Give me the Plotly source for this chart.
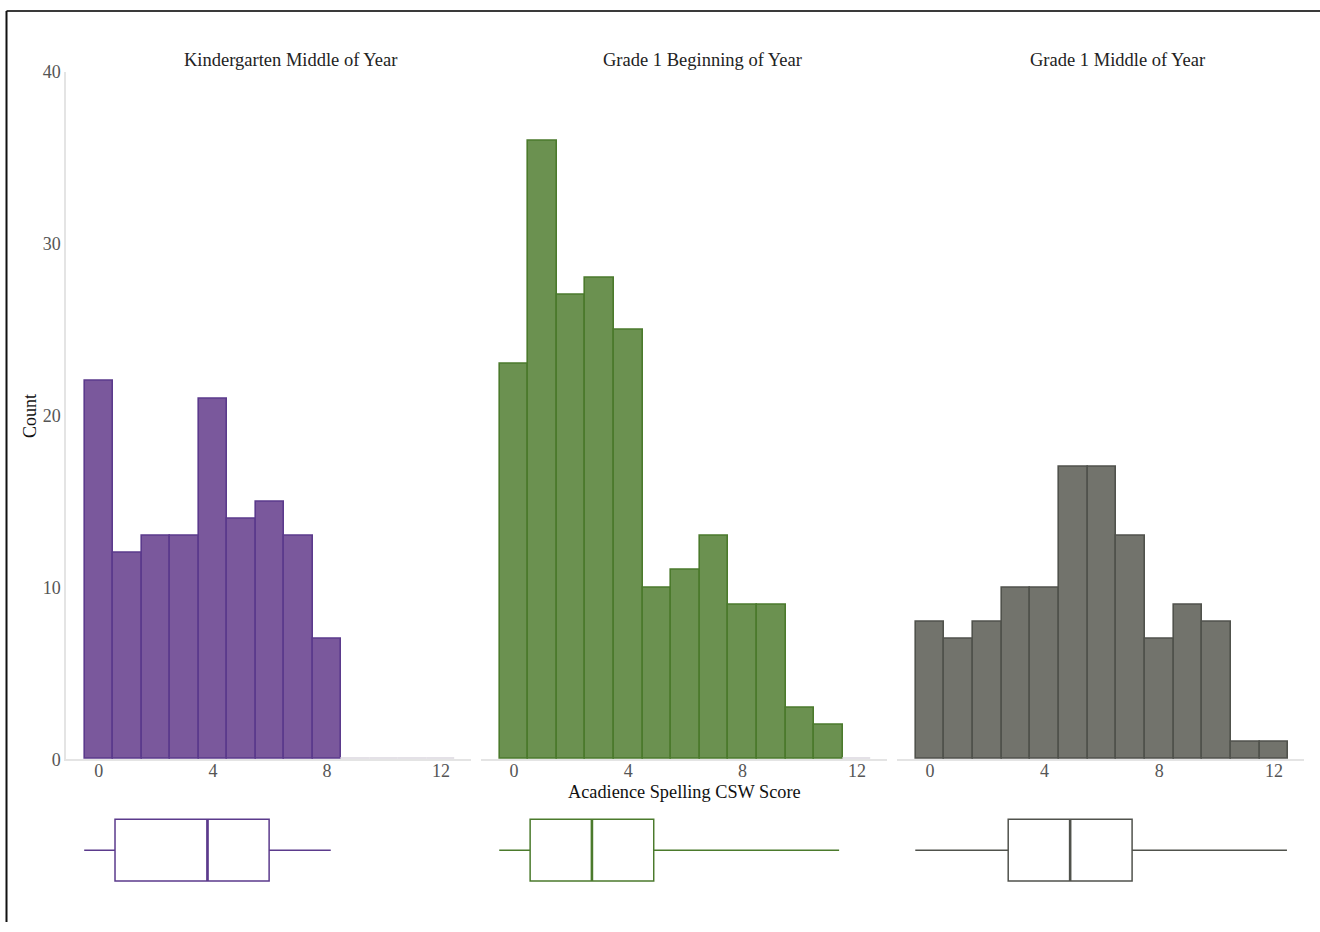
import plotly.graph_objects as go

# Score bins (integer CSW scores) and counts per benchmark period
score_bins = list(range(13))
kinder_moy_counts = [22, 12, 13, 13, 21, 14, 15, 13, 7, 0, 0, 0, 0]
grade1_boy_counts = [23, 36, 27, 28, 25, 10, 11, 13, 9, 9, 3, 2, 0]
grade1_moy_counts = [8, 7, 8, 10, 10, 17, 17, 13, 7, 9, 8, 1, 1]

panel_titles = ["Kindergarten Middle of Year", "Grade 1 Beginning of Year", "Grade 1 Middle of Year"]

# Five-number summaries: min, Q1, median, Q3, max
box_min = [0, 0, 0]
box_q1 = [1, 1, 3]
box_median = [4, 3, 5]
box_q3 = [6, 5, 7]
box_max = [8, 11, 12]

x_ticks = [0, 4, 8, 12]
y_ticks = [0, 10, 20, 30, 40]

W, H = 1320, 932
fills = ["#7a589c", "#6b9150", "#72736c"]
edges = ["#5b3a8c", "#4b7a2c", "#50524c"]
empty_edge = "#dcd8e0"
FONT = "Liberation Serif"

# pixel -> paper fraction helpers (vertical extent of the drawn paper)
PAPER_TOP, PAPER_H = 8.0, 914.0


def px_x(p):
    return p / W


def px_y(p):
    return 1 - (p - PAPER_TOP) / PAPER_H


hist_domains = [(66, 471), (481, 887), (897, 1304)]
title_centers = [290, 702.5, 1117.5]

fig = go.Figure()
all_counts = [kinder_moy_counts, grade1_boy_counts, grade1_moy_counts]

for i, counts in enumerate(all_counts):
    n = i + 1
    xa = "x" if n == 1 else f"x{n}"
    ya = "y" if n == 1 else f"y{n}"
    line_cols = [edges[i] if c > 0 else empty_edge for c in counts]
    fig.add_trace(go.Bar(
        x=score_bins, y=counts, width=1,
        marker=dict(color=fills[i], line=dict(color=line_cols, width=1.6)),
        xaxis=xa, yaxis=ya, showlegend=False, hoverinfo="x+y",
    ))
    # Box plot below each histogram
    bxa = f"x{n + 3}"
    bya = f"y{n + 3}"
    fig.add_trace(go.Box(
        y=[0], q1=[box_q1[i]], median=[box_median[i]], q3=[box_q3[i]],
        lowerfence=[box_min[i]], upperfence=[box_max[i]],
        orientation="h", width=0.62, fillcolor="white",
        line=dict(color=edges[i], width=1.5), whiskerwidth=0,
        xaxis=bxa, yaxis=bya, showlegend=False, boxpoints=False,
    ))
    # Heavier median stroke
    fig.add_trace(go.Scatter(
        x=[box_median[i], box_median[i]], y=[-0.31, 0.31], mode="lines",
        line=dict(color=edges[i], width=2.6),
        xaxis=bxa, yaxis=bya, showlegend=False, hoverinfo="skip",
    ))

layout = dict(
    width=W, height=H,
    margin=dict(l=0, r=0, t=0, b=0),
    paper_bgcolor="white", plot_bgcolor="white",
    font=dict(family=FONT, size=17, color="#222222"),
    bargap=0,
)

hist_y_dom = [px_y(759), px_y(70)]
box_y_dom = [px_y(900), px_y(800)]
tick_font = dict(family=FONT, size=18, color="#555555")

for i, (a, b) in enumerate(hist_domains):
    n = i + 1
    key_x = "xaxis" if n == 1 else f"xaxis{n}"
    key_y = "yaxis" if n == 1 else f"yaxis{n}"
    layout[key_x] = dict(
        domain=[px_x(a), px_x(b)], range=[-1.15, 13.05],
        tickvals=x_ticks, showgrid=False, zeroline=False,
        showline=True, linecolor="#e4e4e4", linewidth=1.5,
        ticks="", tickfont=tick_font, ticklabelstandoff=-6,
        anchor="y" if n == 1 else f"y{n}",
    )
    layout[key_y] = dict(
        domain=hist_y_dom, range=[0, 40], tickvals=y_ticks,
        showgrid=False, zeroline=False,
        showline=(n == 1), linecolor="#e4e4e4", linewidth=1.5,
        showticklabels=(n == 1), ticks="", tickfont=tick_font,
        anchor="x" if n == 1 else f"x{n}",
    )
    layout[f"xaxis{n + 3}"] = dict(
        domain=[px_x(a), px_x(b)], range=[-0.59, 12.55],
        visible=False, anchor=f"y{n + 3}",
    )
    layout[f"yaxis{n + 3}"] = dict(
        domain=box_y_dom, range=[-0.5, 0.5], visible=False,
        anchor=f"x{n + 3}",
    )

annotations = []
for t, cx in zip(panel_titles, title_centers):
    annotations.append(dict(
        text=t, x=px_x(cx), y=px_y(58), xref="paper", yref="paper",
        showarrow=False, xanchor="center", yanchor="middle",
        font=dict(family=FONT, size=18.5, color="#222222"),
    ))
annotations.append(dict(
    text="Count", x=px_x(30), y=px_y(415), xref="paper", yref="paper",
    showarrow=False, textangle=-90, xanchor="center", yanchor="middle",
    font=dict(family=FONT, size=18, color="#111111"),
))
annotations.append(dict(
    text="Acadience Spelling CSW Score", x=px_x(684), y=px_y(792),
    xref="paper", yref="paper", showarrow=False,
    xanchor="center", yanchor="middle",
    font=dict(family=FONT, size=18.3, color="#111111"),
))
layout["annotations"] = annotations

# Frame edges along the left and top
layout["shapes"] = [
    dict(type="line", xref="paper", yref="paper",
         x0=px_x(6.5), x1=1.0, y0=px_y(9), y1=px_y(9),
         line=dict(color="#3a3a3a", width=2)),
    dict(type="line", xref="paper", yref="paper",
         x0=px_x(6.5), x1=px_x(6.5), y0=0, y1=px_y(9),
         line=dict(color="#111111", width=2)),
]

fig.update_layout(**layout)
fig.write_html("out.html")
